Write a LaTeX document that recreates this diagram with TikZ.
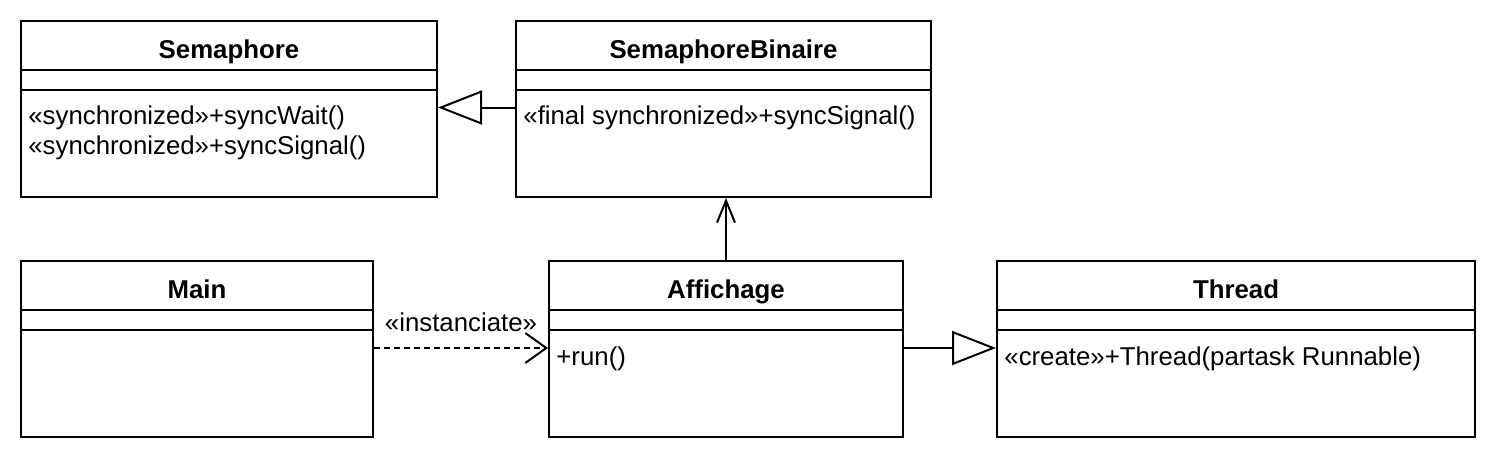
\documentclass[tikz,border=0pt]{standalone}
\usepackage{fontspec}
\setmainfont{Liberation Sans}
\usetikzlibrary{arrows.meta}

\tikzset{
    umlbox/.style={draw,line width=1pt,inner sep=0pt,anchor=north west,minimum height=88pt},
    umltitle/.style={font=\fontsize{12.9}{15}\selectfont\bfseries,inner sep=0pt,anchor=base},
    umlop/.style={font=\fontsize{12.9}{15}\selectfont,inner sep=0pt,anchor=base west},
    umlline/.style={line width=1pt},
    inherit/.style={umlline,-{Triangle[open,length=22pt,width=17pt,line width=1pt]}},
    assoc/.style={umlline,-{Straight Barb[length=11pt,width=9pt,line width=1pt]}}
}

\begin{document}
\begin{tikzpicture}[x=0.5pt,y=-0.5pt]
\useasboundingbox (0,0) rectangle (1494,456);

% classes
\node[umlbox,minimum width=208pt] (sem) at (20,20) {};
\node[umlbox,minimum width=207.5pt] (semb) at (515,20) {};
\node[umlbox,minimum width=176pt] (main) at (20,260) {};
\node[umlbox,minimum width=177pt] (aff) at (548,260) {};
\node[umlbox,minimum width=239pt] (thr) at (996,260) {};

% compartments
\foreach \c in {sem,semb,main,aff,thr}{
    \draw[umlline] ([yshift=-25pt]\c.north west) -- ([yshift=-25pt]\c.north east);
    \draw[umlline] ([yshift=-34.75pt]\c.north west) -- ([yshift=-34.75pt]\c.north east);
}

% titles
\node[umltitle] (semTitle) at ([yshift=-19pt]sem.north) {Semaphore};
\node[umltitle] (sembTitle) at ([yshift=-19pt]semb.north) {SemaphoreBinaire};
\node[umltitle] (mainTitle) at ([yshift=-19pt]main.north) {Main};
\node[umltitle] (affTitle) at ([yshift=-19pt]aff.north) {Affichage};
\node[umltitle] (thrTitle) at ([yshift=-19pt]thr.north) {Thread};

% operations
\node[umlop] (semWait) at ([xshift=4pt,yshift=-52pt]sem.north west) {«synchronized»+syncWait()};
\node[umlop] (semSignal) at ([xshift=4pt,yshift=-67pt]sem.north west) {«synchronized»+syncSignal()};
\node[umlop] (sembSignal) at ([xshift=4pt,yshift=-52pt]semb.north west) {«final synchronized»+syncSignal()};
\node[umlop] (affRun) at ([xshift=4pt,yshift=-52.5pt]aff.north west) {+run()};
\node[umlop] (thrCreate) at ([xshift=4pt,yshift=-52.5pt]thr.north west) {«create»+Thread(partask Runnable)};

% relations
\draw[inherit] ([yshift=-43.75pt]semb.north west) -- ([yshift=-43.75pt]sem.north east);
\draw[assoc] (aff.north) -- (aff.north |- semb.south);
\draw[umlline,dash pattern=on 3pt off 2pt,-{Straight Barb[length=10.5pt,width=15pt,line width=1pt]}]
    ([yshift=-44pt]main.north east) -- ([yshift=-44pt]aff.north west)
    node[midway,anchor=base,yshift=8.5pt,font=\fontsize{12.9}{15}\selectfont,inner sep=0pt] (instLabel) {«instanciate»};
\draw[inherit] ([yshift=-44pt]aff.north east) -- ([yshift=-44pt]thr.north west);

\end{tikzpicture}
\end{document}
